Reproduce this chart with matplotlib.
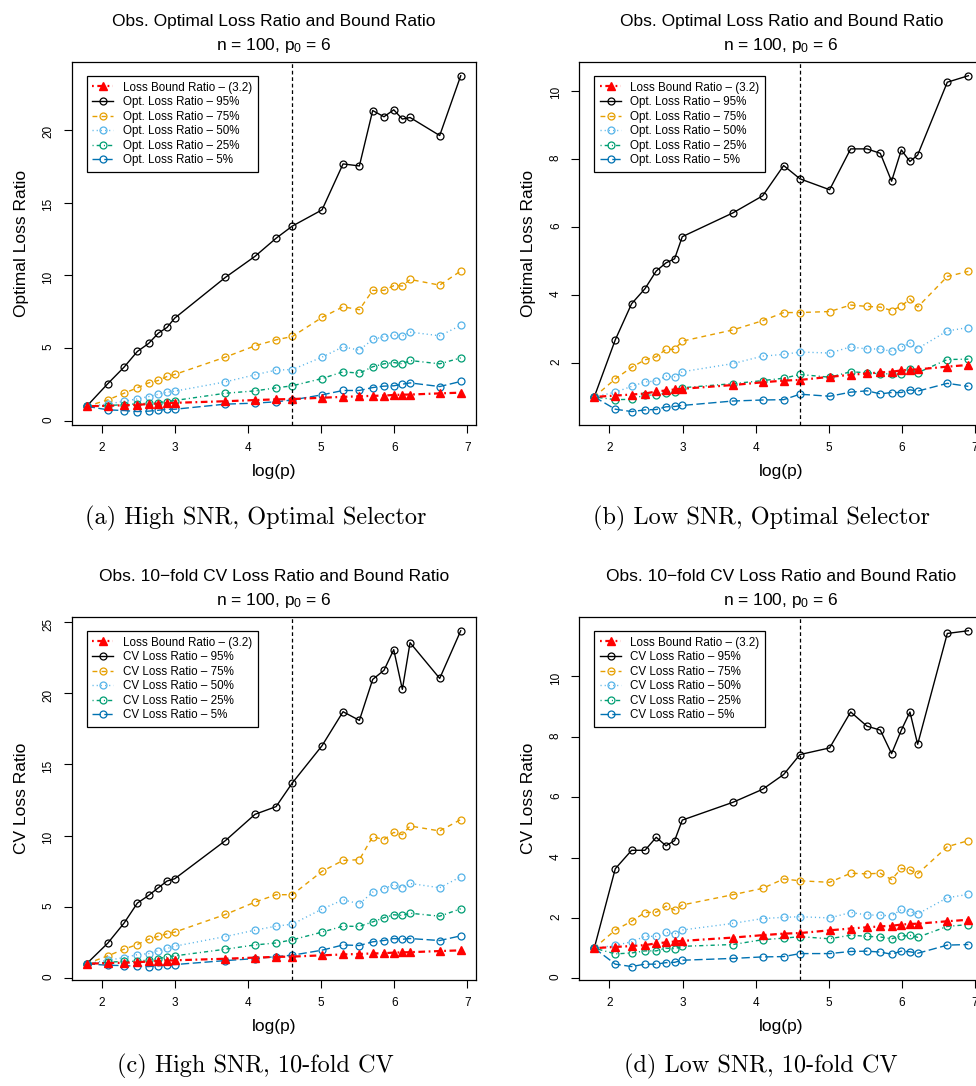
import numpy as np
import matplotlib
matplotlib.use("Agg")
import matplotlib.pyplot as plt

plt.rcParams['font.family'] = ['Liberation Sans', 'DejaVu Sans']
plt.rcParams['mathtext.fontset'] = 'custom'
plt.rcParams['mathtext.rm'] = 'Liberation Sans'
plt.rcParams['mathtext.it'] = 'Liberation Sans:italic'

# --- data ---
p = [6, 8, 10, 12, 14, 16, 18, 20, 40, 60, 80, 100, 150, 200, 250, 300,
     350, 400, 450, 500, 750, 1000]
n = 100

bound = [1.0, 1.04, 1.07, 1.10, 1.16, 1.19, 1.22, 1.24, 1.35, 1.43, 1.48, 1.50,
         1.59, 1.65, 1.69, 1.72, 1.74, 1.78, 1.80, 1.81, 1.89, 1.94]

# (a) high SNR, optimal selector
a_95 = [1.0, 2.55, 3.69, 4.77, 5.32, 6.03, 6.42, 7.06, 9.86, 11.31, 12.55, 13.39,
        14.5, 17.66, 17.52, 21.33, 20.9, 21.38, 20.74, 20.85, 19.61, 23.72]
a_75 = [1.0, 1.44, 1.90, 2.27, 2.61, 2.78, 3.05, 3.19, 4.38, 5.16, 5.57, 5.80,
        7.11, 7.84, 7.64, 8.97, 8.97, 9.29, 9.27, 9.72, 9.33, 10.3]
a_50 = [1.0, 1.15, 1.35, 1.51, 1.67, 1.83, 1.97, 2.04, 2.68, 3.17, 3.49, 3.53,
        4.38, 5.09, 4.86, 5.60, 5.78, 5.89, 5.83, 6.10, 5.85, 6.56]
a_25 = [1.0, 1.05, 1.12, 1.17, 1.22, 1.26, 1.33, 1.40, 1.90, 2.06, 2.27, 2.41,
        2.91, 3.37, 3.28, 3.72, 3.92, 4.01, 3.92, 4.15, 3.92, 4.33]
a_05 = [1.0, 0.76, 0.71, 0.64, 0.67, 0.73, 0.80, 0.80, 1.15, 1.22, 1.31, 1.44,
        1.79, 2.09, 2.09, 2.29, 2.39, 2.41, 2.52, 2.61, 2.36, 2.71]

# (b) low SNR, optimal selector
b_95 = [1.0, 2.68, 3.74, 4.18, 4.70, 4.94, 5.06, 5.71, 6.41, 6.91, 7.80, 7.41,
        7.09, 8.29, 8.29, 8.16, 7.34, 8.26, 7.92, 8.11, 10.25, 10.44]
b_75 = [1.0, 1.53, 1.87, 2.09, 2.18, 2.40, 2.40, 2.64, 2.97, 3.24, 3.48, 3.48,
        3.51, 3.70, 3.66, 3.64, 3.54, 3.67, 3.88, 3.64, 4.54, 4.69]
b_50 = [1.0, 1.14, 1.31, 1.44, 1.47, 1.61, 1.59, 1.74, 1.98, 2.20, 2.25, 2.32,
        2.29, 2.47, 2.41, 2.41, 2.34, 2.46, 2.58, 2.42, 2.94, 3.04]
b_25 = [1.0, 0.92, 0.93, 1.06, 1.05, 1.12, 1.14, 1.27, 1.39, 1.48, 1.55, 1.66,
        1.58, 1.74, 1.71, 1.68, 1.68, 1.68, 1.83, 1.71, 2.10, 2.11]
b_05 = [1.0, 0.64, 0.57, 0.62, 0.63, 0.71, 0.72, 0.75, 0.88, 0.91, 0.92, 1.08,
        1.02, 1.14, 1.18, 1.09, 1.13, 1.13, 1.21, 1.17, 1.40, 1.31]

# (c) high SNR, 10-fold CV
c_95 = [1.0, 2.44, 3.85, 5.26, 5.80, 6.34, 6.81, 6.97, 9.65, 11.50, 12.04, 13.71,
        16.32, 18.71, 18.10, 20.98, 21.62, 23.07, 20.28, 23.56, 21.05, 24.40]
c_75 = [1.0, 1.55, 2.02, 2.35, 2.72, 2.93, 3.10, 3.22, 4.46, 5.33, 5.85, 5.85,
        7.49, 8.26, 8.31, 9.93, 9.72, 10.23, 10.07, 10.68, 10.33, 11.13]
c_50 = [1.0, 1.24, 1.43, 1.64, 1.71, 1.92, 2.07, 2.23, 2.91, 3.36, 3.64, 3.78,
        4.84, 5.49, 5.21, 6.03, 6.27, 6.55, 6.34, 6.64, 6.34, 7.11]
c_25 = [1.0, 1.10, 1.17, 1.17, 1.27, 1.36, 1.48, 1.55, 2.02, 2.32, 2.46, 2.68,
        3.22, 3.64, 3.62, 3.94, 4.23, 4.44, 4.39, 4.55, 4.34, 4.86]
c_05 = [1.0, 0.89, 0.87, 0.82, 0.80, 0.85, 0.92, 0.94, 1.22, 1.36, 1.50, 1.60,
        1.95, 2.32, 2.28, 2.54, 2.63, 2.77, 2.72, 2.77, 2.63, 2.96]

# (d) low SNR, 10-fold CV
d_95 = [1.0, 3.63, 4.24, 4.24, 4.67, 4.39, 4.56, 5.24, 5.83, 6.26, 6.75, 7.41,
        7.63, 8.82, 8.35, 8.22, 7.44, 8.22, 8.82, 7.75, 11.42, 11.51]
d_75 = [1.0, 1.60, 1.89, 2.18, 2.19, 2.39, 2.26, 2.43, 2.77, 2.98, 3.29, 3.23,
        3.18, 3.48, 3.46, 3.48, 3.27, 3.64, 3.59, 3.46, 4.36, 4.56]
d_50 = [1.0, 1.09, 1.21, 1.39, 1.39, 1.52, 1.47, 1.60, 1.82, 1.98, 2.02, 2.04,
        2.00, 2.18, 2.10, 2.09, 2.07, 2.28, 2.21, 2.13, 2.67, 2.78]
d_25 = [1.0, 0.81, 0.84, 0.91, 0.91, 1.00, 0.98, 1.06, 1.12, 1.28, 1.33, 1.38,
        1.31, 1.43, 1.39, 1.37, 1.31, 1.40, 1.42, 1.36, 1.72, 1.78]
d_05 = [1.0, 0.47, 0.39, 0.47, 0.47, 0.52, 0.53, 0.60, 0.66, 0.71, 0.72, 0.82,
        0.82, 0.89, 0.90, 0.87, 0.80, 0.90, 0.88, 0.83, 1.10, 1.12]

quantiles = ['95%', '75%', '50%', '25%', '5%']
titles = ['Obs. Optimal Loss Ratio and Bound Ratio', 'Obs. Optimal Loss Ratio and Bound Ratio',
          'Obs. 10\u2212fold CV Loss Ratio and Bound Ratio', 'Obs. 10\u2212fold CV Loss Ratio and Bound Ratio']
ylabels = ['Optimal Loss Ratio', 'Optimal Loss Ratio', 'CV Loss Ratio', 'CV Loss Ratio']
prefixes = ['Opt. Loss Ratio', 'Opt. Loss Ratio', 'CV Loss Ratio', 'CV Loss Ratio']
captions = ['(a) High SNR, Optimal Selector', '(b) Low SNR, Optimal Selector',
            '(c) High SNR, 10-fold CV', '(d) Low SNR, 10-fold CV']
yticks = [[0, 5, 10, 15, 20], [2, 4, 6, 8, 10], [0, 5, 10, 15, 20, 25], [0, 2, 4, 6, 8, 10]]
panels = [[a_95, a_75, a_50, a_25, a_05], [b_95, b_75, b_50, b_25, b_05],
          [c_95, c_75, c_50, c_25, c_05], [d_95, d_75, d_50, d_25, d_05]]

# line styles for each quantile (R-like lty)
q_colors = ['black', '#E69F00', '#56B4E9', '#009E73', '#0072B2']
q_dashes = [None, (3.5, 3), (0.8, 2.2), (0.8, 2.2, 3, 2.2), (6, 2.5)]

logp = np.log(p)

W, H = 976, 1086
fig = plt.figure(figsize=(W / 100, H / 100), dpi=100)

ax_w, ax_h = 404, 362.7
lefts = [71.7, 579.3, 71.7, 579.3]
tops = [62.3, 62.3, 617.3, 617.3]
cap_x = [255.5, 761, 255.5, 761]
cap_y = [518, 518, 1066, 1066]

for i in range(4):
    ax = fig.add_axes([lefts[i] / W, 1 - (tops[i] + ax_h) / H, ax_w / W, ax_h / H])
    handles = []
    for j, series in enumerate(panels[i]):
        kw = dict(color=q_colors[j], lw=1.0, marker='o', ms=5, mfc='none',
                  mew=0.9, label=prefixes[i] + ' \u2013 ' + quantiles[j])
        line, = ax.plot(logp, series, **kw)
        if q_dashes[j] is not None:
            line.set_dashes(q_dashes[j])
        handles.append(line)
    bl, = ax.plot(logp, bound, color='red', lw=1.6, marker='^', ms=5.5,
                  mfc='red', mec='red', label='Loss Bound Ratio \u2013 (3.2)')
    bl.set_dashes((0.8, 1.6, 3, 1.6))
    ax.axvline(np.log(n), color='black', lw=0.9, dashes=(3, 2.2))

    ax.margins(x=0.04, y=0.04)
    ax.set_xticks([2, 3, 4, 5, 6, 7])
    ax.set_yticks(yticks[i])
    ax.tick_params(direction='out', length=5.5, width=0.8, labelsize=8.5, pad=7)
    ax.tick_params(axis='y', labelrotation=90)
    for sp in ax.spines.values():
        sp.set_linewidth(0.9)

    ax.set_xlabel('log(p)', fontsize=12.5)
    ax.xaxis.set_label_coords(0.5, -47 / ax_h)
    ax.xaxis.label.set_va('center')
    ax.set_ylabel(ylabels[i], fontsize=12.5)
    ax.yaxis.set_label_coords(-0.125, 0.5)
    ax.yaxis.label.set_va('center')

    ax.text(0.5, 1 + 41 / ax_h, titles[i], transform=ax.transAxes, ha='center',
            va='center', fontsize=12.5)
    ax.text(0.5, 1 + 17 / ax_h, 'n = 100, p$_0$ = 6', transform=ax.transAxes,
            ha='center', va='center', fontsize=12.5)

    leg = ax.legend([bl] + handles, [bl.get_label()] + [h.get_label() for h in handles],
                    loc='upper left', bbox_to_anchor=(0.037, 0.963), borderaxespad=0,
                    fontsize=8.4, fancybox=False, edgecolor='black', framealpha=1,
                    handlelength=1.8, handletextpad=0.8, labelspacing=0.22,
                    borderpad=0.5, numpoints=1)
    leg.get_frame().set_linewidth(0.9)

    fig.text(cap_x[i] / W, 1 - cap_y[i] / H, captions[i], ha='center', va='center',
             fontsize=17.5, family='cmr10')

fig.savefig('out.png', dpi=100)
